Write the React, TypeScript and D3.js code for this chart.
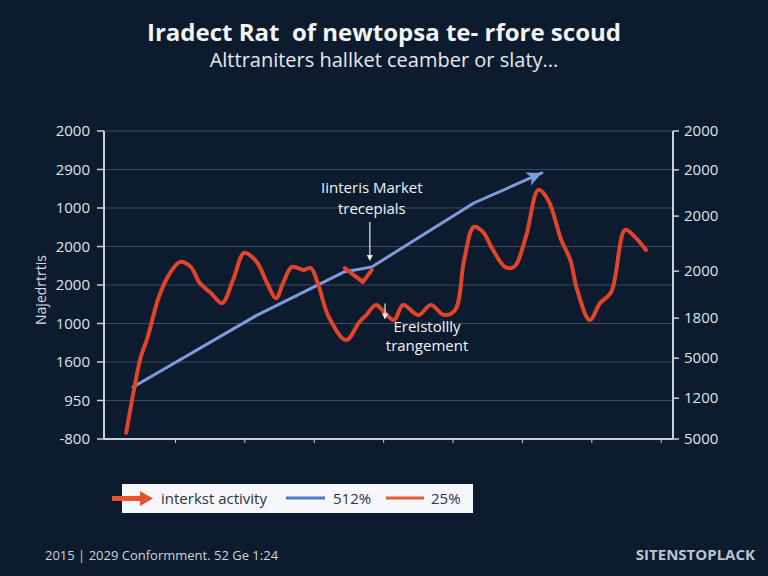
import React from "react";
import * as d3 from "d3";

// red series (market activity), x in periods, y in chart units
const redX = [2.9, 4.2, 5.0, 6.0, 7.6, 9.2, 10.7, 12.2, 13.5, 15.1, 16.7, 18.3, 19.9, 21.7, 23.2, 24.5, 25.5, 26.8, 28.5, 29.5, 30.5, 32.1, 34.6, 36.5, 37.5, 38.9, 40.2, 41.5, 42.8, 45.0, 46.8, 48.7, 50.3, 51.6, 53.0, 54.3, 55.6, 57.5, 58.8, 60.5, 62.3, 63.7, 65.6, 66.9, 67.9, 69.7, 71.2, 72.8, 74.8, 76.2, 77.8];
const redY = [1.6, 14.5, 21.3, 26.5, 36.9, 43.1, 46.0, 44.7, 40.5, 37.9, 35.3, 41.3, 48.3, 46.0, 40.5, 36.6, 40.5, 44.7, 43.9, 44.4, 40.5, 31.7, 25.7, 30.4, 32.2, 34.8, 32.7, 30.9, 34.8, 32.2, 34.8, 32.2, 33.5, 46.5, 55.1, 53.8, 49.6, 44.7, 44.7, 52.5, 64.7, 62.1, 51.7, 46.5, 38.7, 30.9, 35.3, 38.2, 54.3, 52.5, 49.1];

// short red piece sitting on the trend line
const redPieceX = [34.4, 37.0, 38.3];
const redPieceY = [44.4, 40.8, 43.9];

// blue trend arrow
const blueX = [3.9, 21.5, 34.3, 38.3, 53.0, 62.8];
const blueY = [13.5, 31.9, 43.4, 44.7, 61.3, 69.1];

const leftTickValues = [0, 10, 20, 30, 40, 50, 60, 70, 80];
const leftTickLabels = ["-800", "950", "1600", "1000", "2000", "2000", "1000", "2900", "2000"];
const rightTickValues = [0, 10.6, 21, 31.4, 43.6, 57.9, 69.9, 80];
const rightTickLabels = ["5000", "1200", "5000", "1800", "2000", "2000", "2000", "2000"];
const xTickValues = [10, 20, 30, 40, 50, 60, 70, 80];

const legendLabels = ["interkst activity", "512%", "25%"];

const BG = "#0c1b2d";
const RED = "#e2442a";
const BLUE = "#7f9be0";
const FONT = "'Open Sans', 'Noto Sans', sans-serif";

export default function App() {
  const left = 104;
  const right = 673;
  const top = 131;
  const bottom = 439;

  const x = d3.scaleLinear().domain([-0.3, 81.7]).range([left, right]);
  const y = d3.scaleLinear().domain([0, 80]).range([bottom, top]);

  const line = d3
    .line<[number, number]>()
    .x((d) => x(d[0]))
    .y((d) => y(d[1]))
    .curve(d3.curveCatmullRom.alpha(0.5));

  const straight = d3
    .line<[number, number]>()
    .x((d) => x(d[0]))
    .y((d) => y(d[1]));

  const redPts = redX.map((v, i) => [v, redY[i]] as [number, number]);
  const piecePts = redPieceX.map((v, i) => [v, redPieceY[i]] as [number, number]);
  const bluePts = blueX.map((v, i) => [v, blueY[i]] as [number, number]);

  // arrow head at end of blue line
  const n = bluePts.length;
  const tx = x(bluePts[n - 1][0]);
  const ty = y(bluePts[n - 1][1]);
  const px = x(bluePts[n - 2][0]);
  const py = y(bluePts[n - 2][1]);
  const ang = (Math.atan2(ty - py, tx - px) * 180) / Math.PI;

  // annotation anchors in data units
  const ann1 = { x: 38.3, y: 44.7 };
  const ann2 = { x: 40.2, y: 36 };

  return (
    <svg
      width={768}
      height={576}
      style={{ position: "absolute", left: 0, top: 0, background: BG }}
      fontFamily={FONT}
    >
      <rect width={768} height={576} fill={BG} />

      <text x={384} y={41} textAnchor="middle" fill="#f2f4f7" fontSize={24} fontWeight="bold" style={{ whiteSpace: "pre" }}>
        {"Iradect Rat  of newtopsa te- rfore scoud"}
      </text>
      <text x={384} y={67} textAnchor="middle" fill="#e6eaf0" fontSize={20}>
        Alttraniters hallket ceamber or slaty...
      </text>

      {/* grid */}
      {leftTickValues.slice(1).map((v) => (
        <line key={"g" + v} x1={left} x2={right} y1={y(v)} y2={y(v)} stroke="#3b4b60" strokeWidth={1} />
      ))}

      {/* left axis */}
      <line x1={left} x2={left} y1={top} y2={bottom} stroke="#c9d1da" strokeWidth={2} />
      {leftTickValues.map((v, i) => (
        <g key={"l" + v}>
          <line x1={left - 7} x2={left} y1={y(v)} y2={y(v)} stroke="#c9d1da" strokeWidth={1.5} />
          <text x={left - 14} y={y(v)} dy="0.35em" textAnchor="end" fill="#dfe4ea" fontSize={15}>
            {leftTickLabels[i]}
          </text>
        </g>
      ))}
      <text
        transform={`translate(46,290) rotate(-90)`}
        textAnchor="middle"
        fill="#d8dee6"
        fontSize={14}
      >
        Najedrtrtis
      </text>

      {/* right axis */}
      <line x1={right} x2={right} y1={top} y2={bottom} stroke="#c9d1da" strokeWidth={2} />
      {rightTickValues.map((v, i) => (
        <g key={"r" + v}>
          <line x1={right} x2={right + 6} y1={y(v)} y2={y(v)} stroke="#c9d1da" strokeWidth={1.5} />
          <text x={right + 11} y={y(v)} dy="0.35em" fill="#dfe4ea" fontSize={15}>
            {rightTickLabels[i]}
          </text>
        </g>
      ))}

      {/* bottom axis */}
      <line x1={left} x2={right} y1={bottom} y2={bottom} stroke="#c9d1da" strokeWidth={2} />
      {xTickValues.map((v) => (
        <line key={"x" + v} x1={x(v)} x2={x(v)} y1={bottom} y2={bottom + 4} stroke="#c9d1da" strokeWidth={1} />
      ))}

      {/* blue trend arrow */}
      <path d={straight(bluePts) ?? ""} fill="none" stroke={BLUE} strokeWidth={3} strokeLinecap="round" />
      <path
        d="M0,0 L-15,-7 L-11,0 L-15,7 Z"
        transform={`translate(${tx},${ty}) rotate(${ang})`}
        fill={BLUE}
      />

      {/* red series */}
      <path d={line(redPts) ?? ""} fill="none" stroke={RED} strokeWidth={4} strokeLinejoin="round" strokeLinecap="round" />
      <path d={straight(piecePts) ?? ""} fill="none" stroke={RED} strokeWidth={4} strokeLinejoin="round" strokeLinecap="round" />

      {/* annotations */}
      <text x={x(ann1.x)} y={y(ann1.y) - 74} textAnchor="middle" fill="#f2f4f7" fontSize={15}>
        Iinteris Market
      </text>
      <text x={x(ann1.x)} y={y(ann1.y) - 53} textAnchor="middle" fill="#f2f4f7" fontSize={15}>
        trecepials
      </text>
      <line x1={x(ann1.x) - 2} x2={x(ann1.x) - 2} y1={y(ann1.y) - 45} y2={y(ann1.y) - 9} stroke="#e8ecf2" strokeWidth={1.2} />
      <path
        d={`M${x(ann1.x) - 5},${y(ann1.y) - 12} L${x(ann1.x) - 2},${y(ann1.y) - 6} L${x(ann1.x) + 1},${y(ann1.y) - 12} Z`}
        fill="#e8ecf2"
      />

      <line x1={x(ann2.x)} x2={x(ann2.x)} y1={y(ann2.y) + 3} y2={y(ann2.y) + 16} stroke="#e8ecf2" strokeWidth={1.2} />
      <path
        d={`M${x(ann2.x) - 3},${y(ann2.y) + 13} L${x(ann2.x)},${y(ann2.y) + 19} L${x(ann2.x) + 3},${y(ann2.y) + 13} Z`}
        fill="#e8ecf2"
      />
      <text x={x(ann2.x) + 42} y={y(ann2.y) + 32} textAnchor="middle" fill="#f2f4f7" fontSize={15}>
        Ereistollly
      </text>
      <text x={x(ann2.x) + 42} y={y(ann2.y) + 51} textAnchor="middle" fill="#f2f4f7" fontSize={15}>
        trangement
      </text>

      {/* legend */}
      <rect x={122} y={484} width={351} height={29} fill="#f5f7fa" />
      <path d="M112,496 L140,496 L140,491 L153,498.5 L140,506 L140,501 L112,501 Z" fill="#e8522c" />
      <text x={161} y={498.5} dy="0.35em" fill="#2e3440" fontSize={15}>
        {legendLabels[0]}
      </text>
      <line x1={286} x2={325} y1={498} y2={498} stroke="#4a78c8" strokeWidth={3} />
      <text x={333} y={498.5} dy="0.35em" fill="#2e3440" fontSize={15}>
        {legendLabels[1]}
      </text>
      <line x1={386} x2={424} y1={498} y2={498} stroke="#e05a34" strokeWidth={3} />
      <text x={431} y={498.5} dy="0.35em" fill="#2e3440" fontSize={15}>
        {legendLabels[2]}
      </text>

      {/* footer */}
      <text x={45} y={560} fill="#cdd4dd" fontSize={13}>
        2015 | 2029 Conformment. 52 Ge 1:24
      </text>
      <text x={755} y={560} textAnchor="end" fill="#b9c4d0" fontSize={15} fontWeight="bold">
        SITENSTOPLACK
      </text>
    </svg>
  );
}
